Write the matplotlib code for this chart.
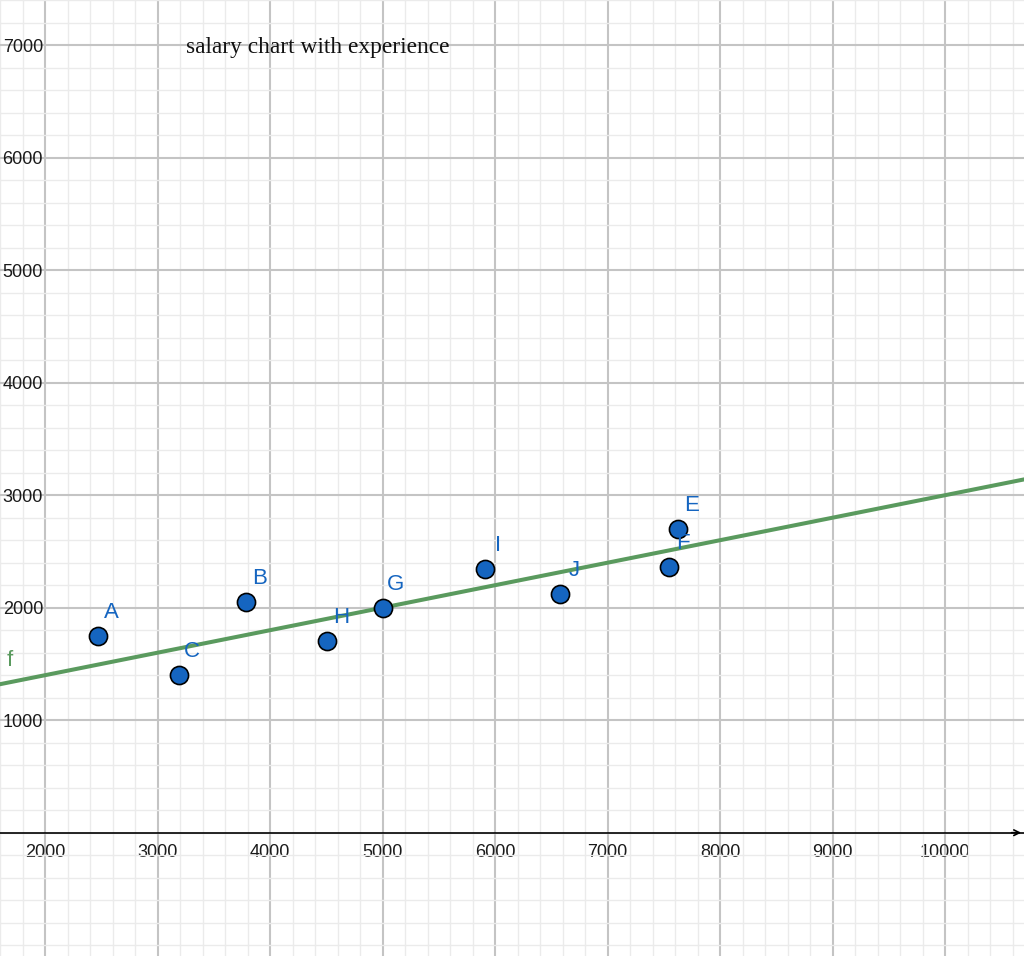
import matplotlib.pyplot as plt
from matplotlib.ticker import MultipleLocator

# points (experience vs salary)
names = ['A', 'B', 'C', 'E', 'F', 'G', 'H', 'I', 'J']
experience = [2470, 3790, 3190, 7630, 7550, 5000, 4510, 5910, 6580]
salary = [1750, 2050, 1400, 2700, 2360, 2000, 1700, 2340, 2120]

# fitted line f(x) = slope * x + intercept
slope = 0.2
intercept = 1000

x_ticks = [2000, 3000, 4000, 5000, 6000, 7000, 8000, 9000, 10000]
y_ticks = [1000, 2000, 3000, 4000, 5000, 6000, 7000]

blue = '#1565c0'
green = '#5a9a5e'

fig = plt.figure(figsize=(10.24, 9.56), dpi=100)
ax = fig.add_axes([0, 0, 1, 1])
ax.set_xlim(1600, 10702)
ax.set_ylim(-1096, 7402)

# grid
ax.xaxis.set_major_locator(MultipleLocator(1000))
ax.yaxis.set_major_locator(MultipleLocator(1000))
ax.xaxis.set_minor_locator(MultipleLocator(200))
ax.yaxis.set_minor_locator(MultipleLocator(200))
ax.grid(which='major', color='#c4c4c4', lw=1.5)
ax.grid(which='minor', color='#ebebeb', lw=1.0)
ax.set_axisbelow(True)

for s in ['top', 'right', 'left']:
    ax.spines[s].set_visible(False)
ax.spines['bottom'].set_position(('data', 0))
ax.spines['bottom'].set_color('black')
ax.spines['bottom'].set_linewidth(1.2)
ax.annotate('', xy=(1.0, 0), xytext=(0.985, 0), xycoords=ax.get_yaxis_transform(),
            arrowprops=dict(arrowstyle='->', lw=1.2, color='black'))

# tick labels
ax.set_xticks(x_ticks)
ax.set_xticklabels([str(v) for v in x_ticks])
ax.set_yticks(y_ticks)
ax.set_yticklabels([str(v) for v in y_ticks])
ax.tick_params(axis='x', which='both', length=0, pad=8, labelsize=13,
               labelcolor='#1a1a1a')
ax.tick_params(axis='y', which='both', length=0, pad=-31, labelsize=13,
               labelcolor='#1a1a1a')
for lab in ax.get_xticklabels() + ax.get_yticklabels():
    lab.set_fontfamily('Liberation Sans')
for lab in ax.get_yticklabels():
    lab.set_horizontalalignment('right')

# regression line
xs = [1600, 10702]
ax.plot(xs, [slope * v + intercept for v in xs], color=green, lw=2.9, zorder=3)
ax.text(1690, 1535, 'f', color=green, fontsize=16, family='Liberation Sans',
        ha='center', va='center')

# points
ax.scatter(experience, salary, s=170, color=blue, edgecolors='black',
           linewidths=1.2, zorder=4)
for n, x, y in zip(names, experience, salary):
    ax.annotate(n, (x, y), xytext=(9.7, 16.9), textcoords='offset points',
                color=blue, fontsize=16, family='Liberation Sans',
                ha='center', va='center', zorder=5)

ax.text(4427, 6984, 'salary chart with experience', family='Liberation Serif',
        fontsize=16.8, ha='center', va='center', color='#111111')

fig.savefig('out.png', dpi=100)
